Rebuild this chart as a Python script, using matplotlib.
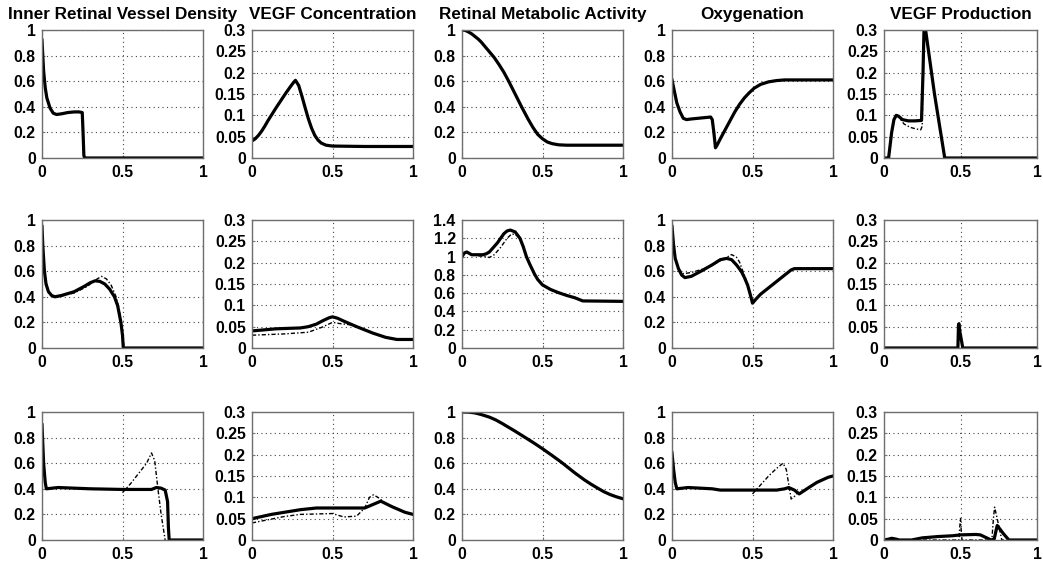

# ==============================================
# RETINAL MODEL PROFILES - 3 x 5 PANEL FIGURE
# solid = full model, dotted = comparison run
# ==============================================

import matplotlib.pyplot as plt

# -----------------
# TITLES AND TICKS
titles = ["Inner Retinal Vessel Density", "VEGF Concentration",
          "Retinal Metabolic Activity", "Oxygenation", "VEGF Production"]

xticks = [0, 0.5, 1]
xlabels = ["0", "0.5", "1"]
yt_unit = [0, 0.2, 0.4, 0.6, 0.8, 1]
yl_unit = ["0", "0.2", "0.4", "0.6", "0.8", "1"]
yt_small = [0, 0.05, 0.1, 0.15, 0.2, 0.25, 0.3]
yl_small = ["0", "0.05", "0.1", "0.15", "0.2", "0.25", "0.3"]
yt_big = [0, 0.2, 0.4, 0.6, 0.8, 1, 1.2, 1.4]
yl_big = ["0", "0.2", "0.4", "0.6", "0.8", "1", "1.2", "1.4"]
# -----------------

# -------------------------
# ROW 1
x_ves1 = [0, 0.005, 0.01, 0.02, 0.03, 0.05, 0.07, 0.09, 0.12, 0.16, 0.2, 0.23, 0.25, 0.255, 0.26, 0.265, 1.0]
y_ves1 = [0.92, 0.8, 0.68, 0.55, 0.47, 0.39, 0.35, 0.34, 0.345, 0.355, 0.36, 0.36, 0.355, 0.2, 0.02, 0.0, 0.0]

x_vc1 = [0, 0.02, 0.04, 0.06, 0.08, 0.1, 0.12, 0.15, 0.18, 0.21, 0.24, 0.26, 0.27, 0.29, 0.31, 0.33,
         0.35, 0.37, 0.39, 0.41, 0.43, 0.46, 0.5, 0.7, 1.0]
y_vc1 = [0.04, 0.045, 0.053, 0.063, 0.075, 0.088, 0.1, 0.118, 0.135, 0.152, 0.168, 0.178, 0.182, 0.17, 0.145, 0.118,
         0.092, 0.07, 0.053, 0.042, 0.035, 0.03, 0.028, 0.027, 0.027]

x_met1 = [0, 0.02, 0.04, 0.06, 0.08, 0.1, 0.12, 0.14, 0.17, 0.2, 0.23, 0.26, 0.29, 0.33, 0.37, 0.41,
          0.44, 0.47, 0.5, 0.53, 0.56, 0.6, 0.65, 1.0]
y_met1 = [1.0, 0.997, 0.985, 0.97, 0.95, 0.93, 0.905, 0.875, 0.83, 0.785, 0.73, 0.67, 0.6, 0.5, 0.4, 0.305,
          0.24, 0.185, 0.15, 0.125, 0.112, 0.103, 0.1, 0.1]

x_oxy1 = [0, 0.01, 0.02, 0.03, 0.05, 0.07, 0.09, 0.12, 0.2, 0.24, 0.25, 0.26, 0.27, 0.28, 0.3, 0.33,
          0.36, 0.39, 0.42, 0.45, 0.48, 0.51, 0.55, 0.6, 0.65, 0.7, 1.0]
y_oxy1 = [0.61, 0.55, 0.49, 0.43, 0.36, 0.31, 0.3, 0.305, 0.315, 0.32, 0.3, 0.2, 0.08, 0.1, 0.15, 0.22,
          0.29, 0.36, 0.42, 0.47, 0.51, 0.545, 0.575, 0.595, 0.605, 0.61, 0.61]

x_vp1 = [0, 0.03, 0.04, 0.05, 0.065, 0.08, 0.095, 0.12, 0.16, 0.2, 0.245, 0.255, 0.262, 0.268, 0.33, 0.397, 1.0]
y_vp1 = [0, 0, 0.03, 0.06, 0.09, 0.1, 0.098, 0.09, 0.087, 0.087, 0.088, 0.2, 0.31, 0.31, 0.15, 0, 0]
x_vp1d = [0.08, 0.1, 0.13, 0.17, 0.21, 0.24, 0.25, 0.255]
y_vp1d = [0.1, 0.095, 0.08, 0.072, 0.068, 0.066, 0.075, 0.2]
# -------------------------

# -------------------------
# ROW 2
x_ves2 = [0, 0.005, 0.015, 0.025, 0.04, 0.06, 0.08, 0.12, 0.2, 0.26, 0.3, 0.33, 0.36, 0.39, 0.42, 0.45, 0.47, 0.49, 0.5, 0.505, 1.0]
y_ves2 = [0.95, 0.8, 0.6, 0.5, 0.44, 0.41, 0.4, 0.41, 0.44, 0.48, 0.51, 0.525, 0.52, 0.5, 0.46, 0.4, 0.33, 0.2, 0.1, 0.0, 0.0]
x_ves2d = [0.02, 0.04, 0.06, 0.1, 0.2, 0.28, 0.33, 0.37, 0.4, 0.43, 0.46, 0.48, 0.5, 0.51]
y_ves2d = [0.55, 0.44, 0.41, 0.4, 0.43, 0.48, 0.53, 0.56, 0.54, 0.49, 0.4, 0.3, 0.1, 0.0]

x_vc2 = [0, 0.15, 0.3, 0.35, 0.4, 0.44, 0.48, 0.5, 0.53, 0.57, 0.65, 0.75, 0.83, 0.9, 1.0]
y_vc2 = [0.04, 0.045, 0.047, 0.05, 0.056, 0.064, 0.071, 0.073, 0.07, 0.063, 0.05, 0.035, 0.025, 0.02, 0.02]
x_vc2d = [0, 0.2, 0.35, 0.43, 0.5, 0.55, 0.62]
y_vc2d = [0.03, 0.033, 0.037, 0.048, 0.06, 0.057, 0.054]

x_met2 = [0, 0.015, 0.03, 0.06, 0.1, 0.13, 0.15, 0.17, 0.19, 0.22, 0.24, 0.26, 0.28, 0.3, 0.33, 0.36, 0.38,
          0.4, 0.42, 0.45, 0.47, 0.5, 0.55, 0.6, 0.65, 0.7, 0.75, 1.0]
y_met2 = [1.0, 1.04, 1.05, 1.02, 1.02, 1.02, 1.03, 1.05, 1.09, 1.15, 1.2, 1.25, 1.28, 1.29, 1.27, 1.2, 1.11,
          1.0, 0.92, 0.81, 0.75, 0.69, 0.64, 0.605, 0.575, 0.55, 0.515, 0.51]
x_met2d = [0.1, 0.14, 0.17, 0.2, 0.24, 0.28, 0.31, 0.34, 0.37]
y_met2d = [1.01, 1.0, 0.99, 1.02, 1.1, 1.2, 1.25, 1.23, 1.18]

x_oxy2 = [0, 0.01, 0.02, 0.04, 0.06, 0.08, 0.12, 0.18, 0.25, 0.3, 0.34, 0.37, 0.4, 0.43, 0.45, 0.47, 0.49,
          0.5, 0.52, 0.55, 0.6, 0.65, 0.7, 0.74, 0.76, 1.0]
y_oxy2 = [0.95, 0.8, 0.7, 0.62, 0.57, 0.55, 0.56, 0.6, 0.65, 0.69, 0.7, 0.69, 0.65, 0.6, 0.55, 0.49, 0.4,
          0.35, 0.38, 0.42, 0.47, 0.52, 0.57, 0.61, 0.62, 0.62]
x_oxy2d = [0.04, 0.07, 0.12, 0.2, 0.3, 0.37, 0.4, 0.42, 0.44, 0.46, 0.48]
y_oxy2d = [0.62, 0.58, 0.59, 0.62, 0.68, 0.73, 0.71, 0.67, 0.6, 0.53, 0.45]

x_vp2 = [0, 0.483, 0.487, 0.49, 0.495, 0.5, 0.505, 0.51, 0.515, 1.0]
y_vp2 = [0, 0, 0.055, 0.057, 0.04, 0.03, 0.02, 0.01, 0, 0]
# -------------------------

# -------------------------
# ROW 3
x_ves3 = [0, 0.005, 0.01, 0.02, 0.027, 0.1, 0.2, 0.3, 0.5, 0.68, 0.71, 0.74, 0.765, 0.78, 0.785, 0.79, 1.0]
y_ves3 = [0.9, 0.75, 0.6, 0.45, 0.4, 0.41, 0.405, 0.4, 0.395, 0.395, 0.41, 0.405, 0.39, 0.3, 0.1, 0.0, 0.0]
x_ves3d = [0.5, 0.55, 0.6, 0.65, 0.68, 0.7, 0.72, 0.74, 0.765]
y_ves3d = [0.37, 0.44, 0.52, 0.6, 0.68, 0.62, 0.4, 0.2, 0.0]

x_vc3 = [0, 0.12, 0.3, 0.4, 0.7, 0.75, 0.8, 0.87, 0.95, 1.0]
y_vc3 = [0.05, 0.06, 0.071, 0.075, 0.075, 0.083, 0.091, 0.078, 0.065, 0.06]
x_vc3d = [0, 0.2, 0.3, 0.5, 0.57, 0.65, 0.7, 0.73, 0.755, 0.79, 0.82]
y_vc3d = [0.04, 0.055, 0.06, 0.062, 0.054, 0.056, 0.075, 0.1, 0.106, 0.098, 0.088]

x_met3 = [0, 0.04, 0.08, 0.12, 0.17, 0.21, 0.25, 0.29, 0.33, 0.4, 0.45, 0.5, 0.56, 0.62, 0.7, 0.76,
          0.8, 0.84, 0.88, 0.92, 0.96, 1.0]
y_met3 = [1.0, 0.999, 0.993, 0.98, 0.96, 0.938, 0.91, 0.88, 0.85, 0.795, 0.755, 0.713, 0.66, 0.605, 0.525, 0.47,
          0.437, 0.407, 0.378, 0.355, 0.337, 0.322]

x_oxy3 = [0, 0.01, 0.02, 0.03, 0.1, 0.25, 0.3, 0.5, 0.65, 0.7, 0.725, 0.76, 0.79, 0.85, 0.9, 0.97, 1.0]
y_oxy3 = [0.68, 0.55, 0.45, 0.4, 0.41, 0.4, 0.39, 0.39, 0.39, 0.4, 0.41, 0.39, 0.36, 0.41, 0.45, 0.49, 0.5]
x_oxy3d = [0.5, 0.55, 0.6, 0.65, 0.69, 0.71, 0.74, 0.76, 0.78]
y_oxy3d = [0.36, 0.43, 0.5, 0.56, 0.6, 0.55, 0.32, 0.34, 0.37]

x_vp3 = [0, 0.03, 0.05, 0.08, 0.1, 0.18, 0.25, 0.35, 0.45, 0.5, 0.6, 0.63, 0.7, 0.72, 0.74, 0.78, 0.816, 1.0]
y_vp3 = [0, 0.002, 0.004, 0.002, 0, 0, 0.005, 0.008, 0.01, 0.012, 0.013, 0.012, 0, 0.002, 0.034, 0.015, 0, 0]
x_vp3d = [0, 0.49, 0.495, 0.5, 0.505, 0.51, 0.705, 0.715, 0.723, 0.74, 0.77, 0.8]
y_vp3d = [0, 0, 0.03, 0.052, 0.02, 0, 0, 0.05, 0.077, 0.05, 0, 0]
# -------------------------

# grid of panels: (solid x, solid y, dotted x, dotted y, y ticks, y labels)
panels = [
    [(x_ves1, y_ves1, None, None, yt_unit, yl_unit),
     (x_vc1, y_vc1, None, None, yt_small, yl_small),
     (x_met1, y_met1, None, None, yt_unit, yl_unit),
     (x_oxy1, y_oxy1, None, None, yt_unit, yl_unit),
     (x_vp1, y_vp1, x_vp1d, y_vp1d, yt_small, yl_small)],
    [(x_ves2, y_ves2, x_ves2d, y_ves2d, yt_unit, yl_unit),
     (x_vc2, y_vc2, x_vc2d, y_vc2d, yt_small, yl_small),
     (x_met2, y_met2, x_met2d, y_met2d, yt_big, yl_big),
     (x_oxy2, y_oxy2, x_oxy2d, y_oxy2d, yt_unit, yl_unit),
     (x_vp2, y_vp2, None, None, yt_small, yl_small)],
    [(x_ves3, y_ves3, x_ves3d, y_ves3d, yt_unit, yl_unit),
     (x_vc3, y_vc3, x_vc3d, y_vc3d, yt_small, yl_small),
     (x_met3, y_met3, None, None, yt_unit, yl_unit),
     (x_oxy3, y_oxy3, x_oxy3d, y_oxy3d, yt_unit, yl_unit),
     (x_vp3, y_vp3, x_vp3d, y_vp3d, yt_small, yl_small)],
]

# ----------------
# PLOTTING SECTION
# ----------------
plt.rcParams['font.family'] = ['Liberation Sans', 'DejaVu Sans']
plt.rcParams['font.weight'] = 'bold'

W, H = 1043., 567.
fig = plt.figure(figsize=(W / 100, H / 100), dpi=100)

col_left = [42, 252, 462, 672, 884]   # pixels
col_w = [161, 161, 161, 161, 153]     # last column squeezed so its "1" stays on the page
row_top = [30, 220, 412]
ah = 128

for r in range(3):
    for c in range(5):
        xs, ys, xd, yd, yt, yl = panels[r][c]
        ax = fig.add_axes([col_left[c] / W, 1 - (row_top[r] + ah) / H, col_w[c] / W, ah / H])
        if xd is not None:
            ax.plot(xd, yd, color='k', lw=1.0, ls=(0, (3, 1.5, 1, 1.5)))
        ax.plot(xs, ys, color='k', lw=2.3)
        ax.set_xlim(0, 1)
        ax.set_ylim(yt[0], yt[-1])
        ax.set_xticks(xticks)
        ax.set_xticklabels(xlabels)
        ax.set_yticks(yt)
        ax.set_yticklabels(yl)
        ax.grid(True, color='#444444', ls=(0, (1, 3)), lw=0.8)
        ax.tick_params(direction='in', length=2, color='#777777', labelsize=11.3, pad=4.5)
        ax.tick_params(axis='x', pad=5)
        for s in ax.spines.values():
            s.set_color('#6e6e6e')
            s.set_linewidth(1.0)
        if r == 0:
            ax.set_title(titles[c], fontsize=12.3, fontweight='bold', pad=8)

plt.savefig("out.png", dpi=100, facecolor='white')
